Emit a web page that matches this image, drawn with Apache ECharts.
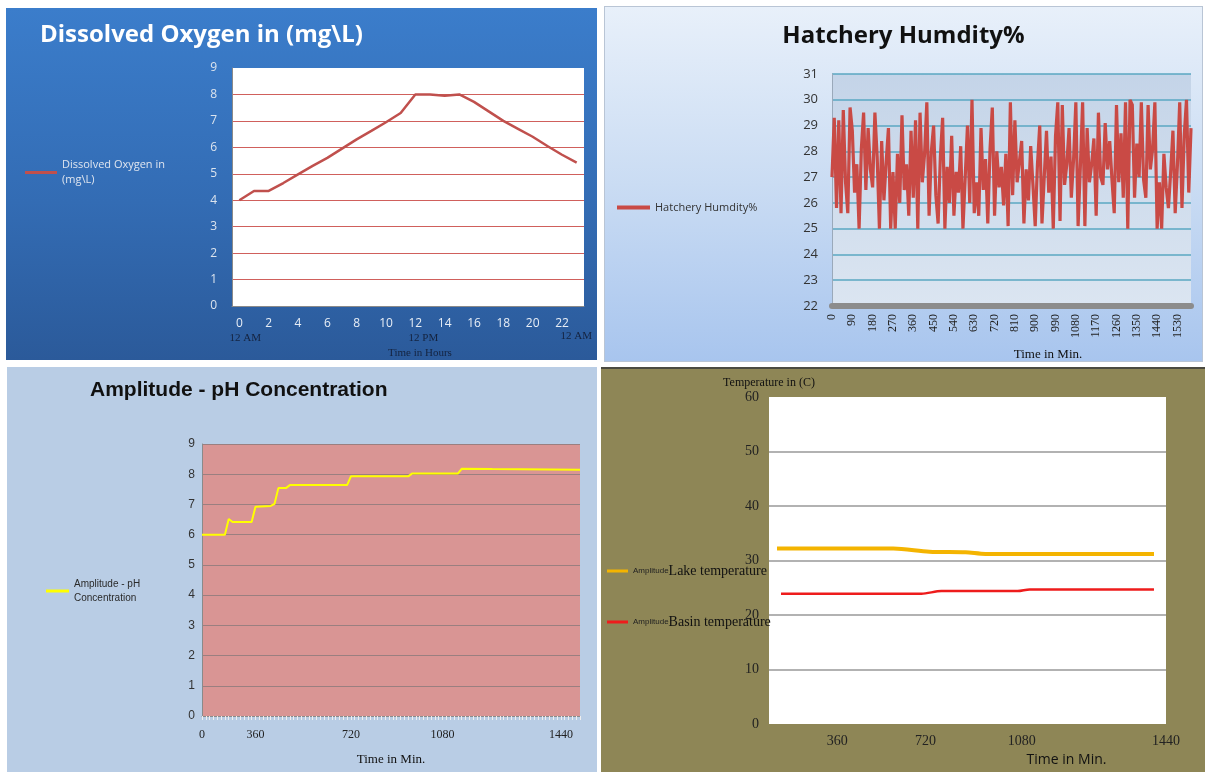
<!DOCTYPE html>
<html>
<head>
<meta charset="utf-8">
<title>Hatchery monitoring</title>
<script src="https://cdn.jsdelivr.net/npm/echarts@6/dist/echarts.min.js"></script>
<style>
  html, body { margin: 0; padding: 0; background: #fff; }
  body { width: 1205px; height: 772px; position: relative; overflow: hidden; }
  .panel { position: absolute; box-sizing: border-box; }
  #oxygen-chart { left: 6px; top: 8px; width: 591px; height: 352px;
    background: linear-gradient(180deg, #3b7dcb 0%, #336cb4 55%, #2b5a9a 100%); }
  #humidity-chart { left: 604px; top: 6px; width: 599px; height: 356px;
    background: linear-gradient(180deg, #e8f0fa 0%, #cadcf3 50%, #a8c5ee 100%);
    border: 1px solid #b9c5d5; }
  #ph-chart { left: 7px; top: 367px; width: 590px; height: 405px; background: #b9cde5; }
  #temp-chart { left: 601px; top: 367px; width: 604px; height: 405px; background: #8e8656;
    border-top: 2px solid #4b4a40; }
</style>
</head>
<body>
<div class="panel" id="oxygen-chart"></div>
<div class="panel" id="humidity-chart"></div>
<div class="panel" id="ph-chart"></div>
<div class="panel" id="temp-chart"></div>

<script>
// Dissolved oxygen, one reading per hour
const oxygenHours = [0, 1, 2, 3, 4, 5, 6, 7, 8, 9, 10, 11, 12, 13, 14, 15, 16, 17, 18, 19, 20, 21, 22, 23];
const oxygenValues = [4.0, 4.35, 4.35, 4.65, 4.98, 5.3, 5.6, 5.95, 6.3, 6.62, 6.95, 7.3,
  8.0, 8.0, 7.95, 8.0, 7.72, 7.36, 7.0, 6.7, 6.4, 6.05, 5.72, 5.42];

// Hatchery humidity, one reading every 10 minutes
const humidityValues = [
  27.0, 29.3, 25.8, 29.2, 25.6, 29.6, 26.8, 25.6, 29.7, 28.8,
  26.4, 27.5, 25.0, 28.1, 29.5, 26.5, 28.9, 27.3, 26.6, 29.5,
  27.8, 25.0, 28.4, 26.1, 27.6, 28.9, 25.0, 27.2, 25.0, 27.9,
  26.0, 29.4, 26.5, 27.5, 25.5, 28.8, 26.2, 29.2, 25.0, 29.5,
  26.8, 27.9, 29.9, 25.5, 28.0, 29.0, 26.3, 25.2, 27.8, 29.3,
  25.0, 27.4, 26.0, 28.6, 25.5, 27.2, 26.4, 28.2, 25.0, 27.0,
  29.0, 26.0, 30.0, 25.6, 26.8, 25.5, 28.9, 26.5, 27.7, 25.2,
  28.1, 29.7, 25.5, 28.0, 26.6, 27.4, 25.9, 27.9, 25.1, 29.9,
  26.3, 29.2, 26.8, 27.6, 28.4, 25.2, 27.3, 26.1, 28.2, 26.7,
  25.1, 27.5, 29.0, 25.2, 27.0, 28.8, 26.4, 27.8, 25.0, 28.6,
  29.9, 25.3, 29.8, 26.7, 27.5, 28.9, 26.2, 27.7, 29.9, 25.1,
  27.4, 29.9, 25.1, 28.9, 26.8, 27.5, 28.5, 25.5, 29.5, 27.0,
  26.7, 29.1, 27.3, 28.4, 26.9, 25.6, 29.8, 26.8, 28.7, 26.2,
  29.9, 25.0, 30.0, 29.8, 26.2, 28.3, 27.0, 29.9, 26.9, 26.2,
  29.8, 27.3, 28.1, 29.9, 25.0, 26.8, 25.0, 27.9, 26.6, 25.8,
  27.2, 28.8, 25.6, 27.5, 29.9, 25.8, 28.6, 30.0, 26.4, 28.9
];
const humidityTimes = humidityValues.map((v, i) => i * 10);

// pH concentration: samples along the day, [sample, pH]
const phSampleCount = 100;
const phTickLabels = { 0: '0', 14: '360', 39: '720', 63: '1080', 94: '1440' };
const phReadings = [[0, 6.0], [6, 6.0], [7, 6.52], [8, 6.42], [13, 6.42], [14, 6.92], [18, 6.95],
  [19, 7.02], [20, 7.54], [22, 7.54], [23, 7.64], [38, 7.64], [39, 7.93], [54, 7.93],
  [55, 8.02], [67, 8.02], [68, 8.18], [76, 8.17], [99, 8.15]];

// Lake and basin temperature, [sample, degrees C]
const tempSampleCount = 100;
const tempTickLabels = { 17: '360', 39: '720', 63: '1080', 99: '1440' };
const lakeReadings = [[2, 32.2], [31, 32.2], [40, 31.6], [49, 31.5], [54, 31.2], [96, 31.2]];
const basinReadings = [[3, 23.9], [38, 23.9], [43, 24.4], [62, 24.4], [65, 24.7], [96, 24.7]];

function sampleCategories(count, labels) {
  return Array.from({ length: count }, (_, i) => labels[i] || '');
}

/**
 * Dissolved oxygen chart (top left)
 */
function initOxygenChart() {
  const chart = echarts.init(document.getElementById('oxygen-chart'));
  const red = '#c0504d';
  const gridRed = '#d0605c';
  // clock names under some of the hour labels
  const clockLabels = { 0: '{a|12 AM}', 12: '{p|12 PM}' };
  const clockStyle = { color: '#14233f', fontFamily: 'Liberation Serif', fontSize: 11, lineHeight: 15 };
  chart.setOption({
    animation: false,
    title: {
      text: 'Dissolved Oxygen in (mg\\L)',
      left: 34, top: 15, padding: 0,
      textStyle: { color: '#fff', fontFamily: 'Open Sans', fontWeight: 'bold', fontSize: 24 }
    },
    legend: {
      left: 19, top: 142, padding: 0, selectedMode: false,
      icon: 'rect', itemWidth: 32, itemHeight: 3,
      formatter: () => 'Dissolved Oxygen in\n(mg\\L)',
      textStyle: { color: '#dfe5ef', fontFamily: 'Open Sans', fontSize: 11, lineHeight: 15, padding: [15, 0, 0, 0] }
    },
    // end-of-day marker under the last hour
    graphic: [{
      type: 'text', right: 5, top: 323,
      style: Object.assign({ text: '12 AM' }, { fill: clockStyle.color, font: '11px "Liberation Serif"' })
    }],
    grid: {
      left: 226, top: 60, width: 352, height: 238, outerBoundsMode: 'none',
      show: true, backgroundColor: '#fff', borderWidth: 0
    },
    xAxis: {
      type: 'category',
      data: oxygenHours,
      axisLine: { lineStyle: { color: '#8a8a8a' } },
      axisTick: { lineStyle: { color: '#8a8a8a' } },
      axisLabel: {
        margin: 10, interval: 1,
        color: '#e8eef6', fontFamily: 'Open Sans', fontSize: 12, lineHeight: 15,
        formatter: (v, i) => clockLabels[i] ? v + '\n' + clockLabels[i] : v,
        rich: {
          a: Object.assign({ padding: [0, 0, 0, 12] }, clockStyle),
          p: Object.assign({ padding: [0, 0, 0, 16] }, clockStyle)
        }
      },
      name: 'Time in Hours',
      nameLocation: 'middle', nameGap: 42, nameMoveOverlap: false,
      nameTextStyle: { color: '#14233f', fontFamily: 'Liberation Serif', fontSize: 11, padding: [0, 0, 0, 24] }
    },
    yAxis: {
      type: 'value', min: 0, max: 9, interval: 1,
      axisLine: { show: true, lineStyle: { color: '#8a8a8a' } },
      axisLabel: { margin: 15, color: '#dce4ee', fontFamily: 'Open Sans', fontSize: 12 },
      splitLine: {
        lineStyle: {
          color: ['#8a8a8a', gridRed, gridRed, gridRed, gridRed, gridRed, gridRed, gridRed, gridRed, '#fff'],
          width: 1
        }
      }
    },
    series: [{
      type: 'line',
      name: 'Dissolved Oxygen in (mg\\L)',
      data: oxygenValues,
      symbol: 'none',
      color: red,
      lineStyle: { color: red, width: 2.5 }
    }]
  });
  return chart;
}

/**
 * Hatchery humidity chart (top right)
 */
function initHumidityChart() {
  const chart = echarts.init(document.getElementById('humidity-chart'));
  const red = '#c94a45';
  chart.setOption({
    animation: false,
    title: {
      text: 'Hatchery Humdity%',
      left: 'center', top: 17, padding: 0,
      textStyle: { color: '#111', fontFamily: 'Open Sans', fontWeight: 'bold', fontSize: 24 }
    },
    legend: {
      left: 12, top: 195, padding: 0, selectedMode: false,
      icon: 'rect', itemWidth: 33, itemHeight: 4,
      textStyle: { color: '#333', fontFamily: 'Open Sans', fontSize: 11 }
    },
    grid: {
      left: 227, top: 67, width: 359, height: 232, outerBoundsMode: 'none',
      show: true, borderWidth: 0,
      backgroundColor: new echarts.graphic.LinearGradient(0, 0, 0, 1, [
        { offset: 0, color: '#c4d4e8' }, { offset: 1, color: '#dbe5f1' }
      ])
    },
    xAxis: {
      type: 'category',
      data: humidityTimes,
      boundaryGap: false,
      axisLine: { lineStyle: { color: '#8c8c8c', width: 6 } },
      axisTick: { show: false },
      axisLabel: { interval: 8, rotate: 90, margin: 8, color: '#222', fontFamily: 'Liberation Serif', fontSize: 12 },
      name: 'Time in Min.',
      nameLocation: 'middle', nameGap: 42, nameMoveOverlap: false,
      nameTextStyle: { color: '#111', fontFamily: 'Liberation Serif', fontSize: 13, padding: [0, 0, 0, 73] }
    },
    yAxis: {
      type: 'value', min: 22, max: 31, interval: 1,
      axisLine: { show: true, lineStyle: { color: '#9aa9ba' } },
      axisLabel: { margin: 14, color: '#333', fontFamily: 'Open Sans', fontSize: 13 },
      splitLine: { lineStyle: { color: '#5aa7c2', width: 1.5 } }
    },
    series: [{
      type: 'line',
      name: 'Hatchery Humdity%',
      data: humidityValues,
      symbol: 'none',
      color: red,
      lineStyle: { color: red, width: 3.2, join: 'miter', miterLimit: 3 }
    }]
  });
  return chart;
}

/**
 * pH concentration chart (bottom left)
 */
function initPhChart() {
  const chart = echarts.init(document.getElementById('ph-chart'));
  const yellow = '#ffff00';
  chart.setOption({
    animation: false,
    title: {
      text: 'Amplitude - pH Concentration',
      left: 83, top: 13, padding: 0,
      textStyle: { color: '#111', fontFamily: 'Liberation Sans', fontWeight: 'bold', fontSize: 21 }
    },
    legend: {
      left: 39, top: 203, padding: 0, selectedMode: false,
      icon: 'rect', itemWidth: 23, itemHeight: 3,
      formatter: () => 'Amplitude - pH\nConcentration',
      textStyle: { color: '#2a2a2a', fontFamily: 'Liberation Sans', fontSize: 10, lineHeight: 14, padding: [14, 0, 0, 0] }
    },
    grid: {
      left: 195, top: 77, width: 378, height: 272, outerBoundsMode: 'none',
      show: true, backgroundColor: '#d99594', borderWidth: 0
    },
    xAxis: {
      type: 'category',
      data: sampleCategories(phSampleCount, phTickLabels),
      boundaryGap: false,
      axisLine: { lineStyle: { color: '#8a8a8a' } },
      axisTick: { interval: 0, length: 4, lineStyle: { color: '#eeeeee' } },
      axisLabel: { interval: 0, margin: 13, color: '#222', fontFamily: 'Liberation Serif', fontSize: 12 },
      name: 'Time in Min.',
      nameLocation: 'middle', nameGap: 37, nameMoveOverlap: false,
      nameTextStyle: { color: '#111', fontFamily: 'Liberation Serif', fontSize: 13 }
    },
    yAxis: {
      type: 'value', min: 0, max: 9, interval: 1,
      axisLine: { show: true, lineStyle: { color: '#8a8a8a' } },
      axisLabel: { margin: 7, color: '#333', fontFamily: 'Liberation Sans', fontSize: 12 },
      splitLine: { lineStyle: { color: '#9a7f80', width: 1 } }
    },
    series: [{
      type: 'line',
      name: 'Amplitude - pH Concentration',
      data: phReadings,
      symbol: 'none',
      color: yellow,
      lineStyle: { color: yellow, width: 2 }
    }]
  });
  return chart;
}

/**
 * Lake / basin temperature chart (bottom right)
 */
function initTempChart() {
  const chart = echarts.init(document.getElementById('temp-chart'));
  const orange = '#f4b400';
  const red = '#ee1c1c';
  const grey = '#b2b2b2';
  const none = 'rgba(0,0,0,0)';
  chart.setOption({
    animation: false,
    legend: {
      orient: 'vertical', left: 6, top: 195, padding: 0, itemGap: 37, selectedMode: false,
      icon: 'rect', itemWidth: 21, itemHeight: 3,
      formatter: (name) => '{a|Amplitude}{b|' + name + '}',
      textStyle: {
        rich: {
          a: { color: '#222', fontFamily: 'Liberation Sans', fontSize: 8 },
          b: { color: '#111', fontFamily: 'Liberation Serif', fontSize: 14 }
        }
      }
    },
    grid: {
      left: 168, top: 28, width: 397, height: 327, outerBoundsMode: 'none',
      show: true, backgroundColor: '#fff', borderWidth: 0
    },
    xAxis: {
      type: 'category',
      data: sampleCategories(tempSampleCount, tempTickLabels),
      boundaryGap: false,
      axisLine: { show: false },
      axisTick: { show: false },
      axisLabel: { interval: 0, margin: 10, color: '#222', fontFamily: 'Liberation Serif', fontSize: 14 },
      name: 'Time in Min.',
      nameLocation: 'middle', nameGap: 29, nameMoveOverlap: false,
      nameTextStyle: { color: '#111', fontFamily: 'Open Sans', fontSize: 14, padding: [0, 0, 0, 198] }
    },
    yAxis: {
      type: 'value', min: 0, max: 60, interval: 10,
      axisLine: { show: false },
      axisLabel: { margin: 10, color: '#222', fontFamily: 'Liberation Serif', fontSize: 14 },
      splitLine: { lineStyle: { color: [none, grey, grey, grey, grey, grey, none], width: 2 } },
      name: 'Temperature in (C)',
      nameLocation: 'end', nameGap: 8,
      nameTextStyle: { color: '#111', fontFamily: 'Liberation Serif', fontSize: 12, align: 'center' }
    },
    series: [{
      type: 'line',
      name: 'Lake temperature',
      data: lakeReadings,
      symbol: 'none',
      smooth: 0.3,
      color: orange,
      lineStyle: { color: orange, width: 4 }
    }, {
      type: 'line',
      name: 'Basin temperature',
      data: basinReadings,
      symbol: 'none',
      smooth: 0.3,
      color: red,
      lineStyle: { color: red, width: 2.5 }
    }]
  });
  return chart;
}

initOxygenChart();
initHumidityChart();
initPhChart();
initTempChart();
</script>
</body>
</html>
